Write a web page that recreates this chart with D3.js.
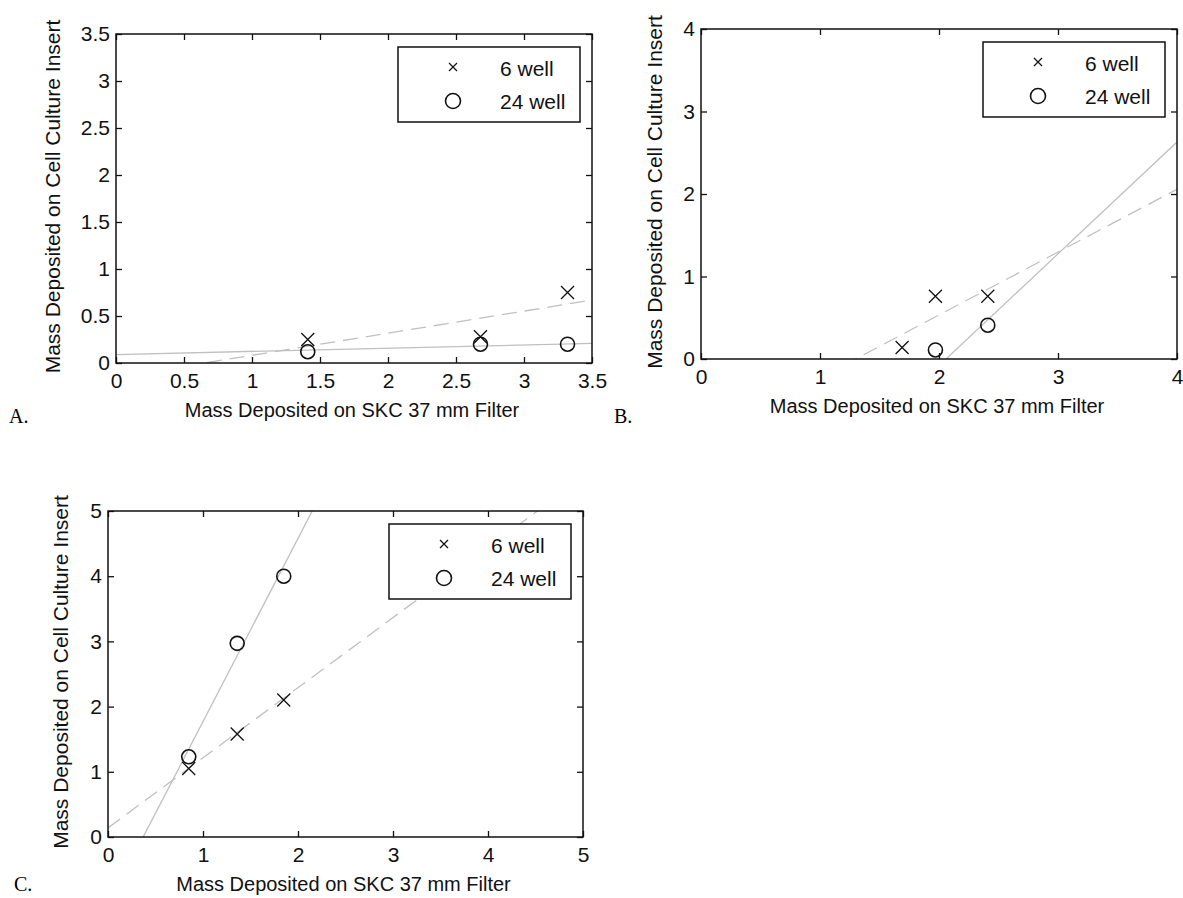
<!DOCTYPE html>
<html>
<head>
<meta charset="utf-8">
<script src="https://cdn.jsdelivr.net/npm/d3@7"></script>
<style>
body { margin: 0; background: #fff; }
svg { display: block; }
</style>
</head>
<body>
<svg></svg>
<script>
// labels
var well6Label = "6 well", well24Label = "24 well";
var xTitle = "Mass Deposited on SKC 37 mm Filter";
var yTitle = "Mass Deposited on Cell Culture Insert";

// panel A data
var aX6 = [1.41, 2.68, 3.32];
var aY6 = [0.25, 0.28, 0.75];
var aX24 = [1.41, 2.68, 3.32];
var aY24 = [0.12, 0.20, 0.20];
var aFit6 = [0.235, -0.153];   // slope, intercept
var aFit24 = [0.034, 0.09];
var aTicks = [0, 0.5, 1, 1.5, 2, 2.5, 3, 3.5];

// panel B data
var bX6 = [1.69, 1.97, 2.41];
var bY6 = [0.14, 0.76, 0.76];
var bX24 = [1.97, 2.41];
var bY24 = [0.11, 0.41];
var bFit6 = [0.762, -0.99];
var bFit24 = [1.355, -2.79];
var bTicks = [0, 1, 2, 3, 4];

// panel C data
var cX6 = [0.85, 1.36, 1.85];
var cY6 = [1.05, 1.58, 2.1];
var cX24 = [0.85, 1.36, 1.85];
var cY24 = [1.23, 2.97, 4.0];
var cFit6 = [1.075, 0.14];
var cFit24 = [2.81, -1.04];
var cTicks = [0, 1, 2, 3, 4, 5];

var svgWidth = 1183, svgHeight = 898;
var svg = d3.select("svg")
    .attr("width", svgWidth)
    .attr("height", svgHeight);

var lineGray = "#c0c0c0";
var ink = "#111";
var sans = "Arial, 'Liberation Sans', sans-serif";

var panels = [
    {id: "A", letter: "A.", lx: 9, ly: 423, left: 116, right: 592, top: 34, bottom: 363, yTitleX: 53,
     max: 3.5, ticks: aTicks, x6: aX6, y6: aY6, x24: aX24, y24: aY24, fit6: aFit6, fit24: aFit24},
    {id: "B", letter: "B.", lx: 614, ly: 423, left: 701, right: 1177, top: 29, bottom: 359, yTitleX: 655,
     max: 4, ticks: bTicks, x6: bX6, y6: bY6, x24: bX24, y24: bY24, fit6: bFit6, fit24: bFit24},
    {id: "C", letter: "C.", lx: 14, ly: 891, left: 108, right: 583, top: 511, bottom: 837, yTitleX: 61,
     max: 5, ticks: cTicks, x6: cX6, y6: cY6, x24: cX24, y24: cY24, fit6: cFit6, fit24: cFit24}
];

panels.forEach(drawPanel);

function fmt(d) { return String(d); }

function drawPanel(p) {
    var xScale = d3.scaleLinear().domain([0, p.max]).range([p.left, p.right]);
    var yScale = d3.scaleLinear().domain([0, p.max]).range([p.bottom, p.top]);
    var g = svg.append("g");

    g.append("clipPath").attr("id", "clip" + p.id)
        .append("rect")
        .attr("x", p.left).attr("y", p.top)
        .attr("width", p.right - p.left).attr("height", p.bottom - p.top);

    // fit lines
    var line = d3.line().x(function(d) { return xScale(d[0]); }).y(function(d) { return yScale(d[1]); });
    var fits = [{f: p.fit24, dash: null}, {f: p.fit6, dash: "15,8"}];
    fits.forEach(function(o) {
        var pts = [[0, o.f[1]], [p.max, o.f[0] * p.max + o.f[1]]];
        g.append("path")
            .attr("d", line(pts))
            .attr("clip-path", "url(#clip" + p.id + ")")
            .attr("fill", "none")
            .attr("stroke", lineGray)
            .attr("stroke-width", 1.3)
            .attr("stroke-dasharray", o.dash);
    });

    // axes, ticks pointing inward
    var tickLen = 6;
    var bottomAxis = g.append("g").attr("transform", "translate(0," + p.bottom + ")")
        .call(d3.axisBottom(xScale).tickValues(p.ticks).tickFormat(fmt).tickSizeInner(-tickLen).tickSizeOuter(0).tickPadding(10));
    var leftAxis = g.append("g").attr("transform", "translate(" + p.left + ",0)")
        .call(d3.axisLeft(yScale).tickValues(p.ticks).tickFormat(fmt).tickSizeInner(-tickLen).tickSizeOuter(0).tickPadding(6));
    var topAxis = g.append("g").attr("transform", "translate(0," + p.top + ")")
        .call(d3.axisTop(xScale).tickValues(p.ticks).tickSizeInner(-tickLen).tickSizeOuter(0).tickFormat(""));
    var rightAxis = g.append("g").attr("transform", "translate(" + p.right + ",0)")
        .call(d3.axisRight(yScale).tickValues(p.ticks).tickSizeInner(-tickLen).tickSizeOuter(0).tickFormat(""));

    [bottomAxis, leftAxis, topAxis, rightAxis].forEach(function(a) {
        a.select(".domain").remove();
        a.selectAll("line").attr("stroke", ink).attr("stroke-width", 1.3);
        a.selectAll("text")
            .attr("fill", ink)
            .style("font-family", sans)
            .style("font-size", "21px");
    });

    g.append("rect")
        .attr("x", p.left).attr("y", p.top)
        .attr("width", p.right - p.left).attr("height", p.bottom - p.top)
        .attr("fill", "none").attr("stroke", ink).attr("stroke-width", 1.5);

    // markers
    var pts6 = p.x6.map(function(v, i) { return [v, p.y6[i]]; });
    var pts24 = p.x24.map(function(v, i) { return [v, p.y24[i]]; });
    g.selectAll(".mk6").data(pts6).enter().append("path")
        .attr("class", "mk6")
        .attr("d", function(d) { return cross(xScale(d[0]), yScale(d[1]), 6.5); })
        .attr("stroke", ink).attr("stroke-width", 1.3).attr("fill", "none");
    g.selectAll(".mk24").data(pts24).enter().append("circle")
        .attr("class", "mk24")
        .attr("cx", function(d) { return xScale(d[0]); })
        .attr("cy", function(d) { return yScale(d[1]); })
        .attr("r", 7)
        .attr("stroke", ink).attr("stroke-width", 1.6).attr("fill", "none");

    // axis titles
    g.append("text")
        .attr("x", (p.left + p.right) / 2 - 2)
        .attr("y", p.bottom + 54)
        .attr("text-anchor", "middle")
        .style("font-family", sans)
        .style("font-size", "20px")
        .attr("fill", ink)
        .text(xTitle);
    g.append("text")
        .attr("transform", "translate(" + p.yTitleX + "," + ((p.top + p.bottom) / 2 - 2) + ") rotate(-90)")
        .attr("dy", "0.35em")
        .attr("text-anchor", "middle")
        .style("font-family", sans)
        .style("font-size", "21px")
        .attr("fill", ink)
        .text(yTitle);

    // legend
    var lx = p.right - 12 - 182, ly = p.top + 13;
    g.append("rect")
        .attr("x", lx).attr("y", ly).attr("width", 182).attr("height", 75)
        .attr("fill", "#fff").attr("stroke", ink).attr("stroke-width", 1.5);
    g.append("path")
        .attr("d", cross(lx + 55, ly + 20, 4))
        .attr("stroke", ink).attr("stroke-width", 1.2);
    g.append("circle")
        .attr("cx", lx + 55).attr("cy", ly + 54).attr("r", 7.5)
        .attr("stroke", ink).attr("stroke-width", 1.6).attr("fill", "none");
    [[well6Label, 29], [well24Label, 62]].forEach(function(t) {
        g.append("text")
            .attr("x", lx + 102).attr("y", ly + t[1])
            .style("font-family", sans)
            .style("font-size", "21px")
            .attr("fill", ink)
            .text(t[0]);
    });

    // panel letter
    svg.append("text")
        .attr("x", p.lx).attr("y", p.ly)
        .style("font-family", "'Times New Roman', 'Liberation Serif', serif")
        .style("font-size", "20px")
        .attr("fill", "#000")
        .text(p.letter);
}

function cross(cx, cy, s) {
    return "M" + (cx - s) + "," + (cy - s) + "L" + (cx + s) + "," + (cy + s) +
        "M" + (cx - s) + "," + (cy + s) + "L" + (cx + s) + "," + (cy - s);
}
</script>
</body>
</html>
